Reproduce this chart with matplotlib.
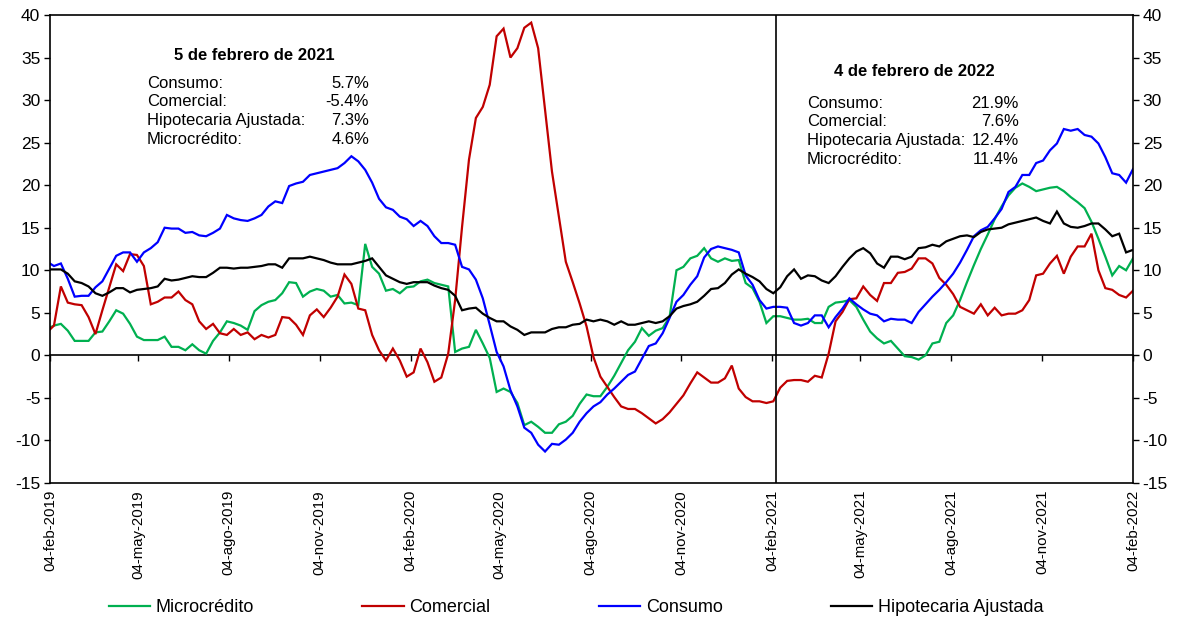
import matplotlib
matplotlib.use("Agg")
import matplotlib.pyplot as plt
import pandas as pd
import numpy as np

plt.rcParams['font.family'] = ['Liberation Sans', 'DejaVu Sans']

# weekly (Friday) observations, 01-feb-2019 .. 04-feb-2022
start_date = '2019-02-01'

microcredito = [
    3.1, 3.5, 3.7, 2.9, 1.7, 1.7, 1.7, 2.7, 2.8, 4.0, 5.3, 4.9, 3.7, 2.2, 1.8, 1.8, 1.8, 2.2, 1.0, 1.0,
    0.6, 1.3, 0.6, 0.2, 1.7, 2.7, 4.0, 3.8, 3.5, 3.0, 5.2, 5.9, 6.3, 6.5, 7.3, 8.6, 8.5, 6.9, 7.5, 7.8,
    7.6, 6.9, 7.1, 6.1, 6.2, 5.9, 13.1, 10.4, 9.6, 7.6, 7.8, 7.3, 8.0, 8.1, 8.7, 8.9, 8.5, 8.3, 8.1, 0.4,
    0.8, 1.0, 3.0, 1.4, -0.3, -4.3, -3.9, -4.3, -5.6, -8.2, -7.8, -8.4, -9.1, -9.1, -8.1, -7.8, -7.1, -5.7, -4.6, -4.8,
    -4.8, -3.7, -2.4, -0.9, 0.6, 1.6, 3.2, 2.3, 2.9, 3.2, 4.5, 10.0, 10.4, 11.4, 11.7, 12.6, 11.4, 11.0, 11.4, 11.1,
    11.2, 8.5, 7.9, 6.3, 3.8, 4.6, 4.6, 4.4, 4.2, 4.2, 4.3, 3.8, 3.8, 5.7, 6.2, 6.3, 6.5, 5.7, 4.2, 2.8,
    2.0, 1.4, 1.7, 0.8, -0.1, -0.2, -0.5, 0.0, 1.4, 1.6, 3.8, 4.7, 6.5, 8.6, 10.6, 12.5, 14.2, 16.0, 17.5, 18.8,
    19.7, 20.2, 19.8, 19.3, 19.5, 19.7, 19.8, 19.3, 18.6, 18.0, 17.3, 15.7, 13.7, 11.6, 9.4, 10.5, 10.0, 11.4,
]

comercial = [
    2.7, 3.5, 8.1, 6.2, 6.0, 5.9, 4.5, 2.5, 5.3, 8.0, 10.7, 9.9, 11.9, 11.8, 10.5, 6.0, 6.3, 6.8, 6.8, 7.5,
    6.5, 6.0, 4.0, 3.1, 3.7, 2.6, 2.4, 3.1, 2.4, 2.7, 1.9, 2.4, 2.1, 2.4, 4.5, 4.4, 3.6, 2.4, 4.7, 5.4,
    4.5, 5.6, 6.9, 9.5, 8.4, 5.5, 5.3, 2.4, 0.6, -0.6, 0.8, -0.6, -2.5, -2.0, 0.8, -0.8, -3.1, -2.6, 0.2, 6.5,
    15.1, 23.0, 27.9, 29.2, 31.8, 37.5, 38.4, 35.0, 36.1, 38.5, 39.1, 36.1, 28.8, 21.6, 16.3, 11.0, 8.6, 6.1, 3.4, -0.2,
    -2.5, -3.7, -4.9, -6.0, -6.3, -6.3, -6.8, -7.4, -8.0, -7.5, -6.7, -5.7, -4.7, -3.3, -2.0, -2.6, -3.2, -3.2, -2.7, -1.2,
    -3.9, -4.9, -5.4, -5.4, -5.6, -5.4, -3.8, -3.0, -2.9, -2.9, -3.1, -2.4, -2.6, 0.2, 4.0, 5.1, 6.6, 6.7, 8.1, 7.1,
    6.4, 8.5, 8.5, 9.7, 9.8, 10.2, 11.4, 11.4, 10.8, 9.1, 8.3, 7.2, 5.7, 5.3, 4.9, 6.0, 4.7, 5.6, 4.7, 4.9,
    4.9, 5.3, 6.5, 9.4, 9.6, 10.8, 11.7, 9.6, 11.6, 12.8, 12.8, 14.3, 10.0, 7.9, 7.7, 7.1, 6.8, 7.6,
]

consumo = [
    11.0, 10.5, 10.8, 9.0, 6.9, 7.0, 7.0, 8.0, 8.7, 10.2, 11.7, 12.1, 12.1, 11.0, 12.1, 12.6, 13.3, 15.0, 14.9, 14.9,
    14.4, 14.5, 14.1, 14.0, 14.4, 14.9, 16.5, 16.1, 15.9, 15.8, 16.1, 16.5, 17.5, 18.1, 17.9, 19.9, 20.2, 20.4, 21.2, 21.4,
    21.6, 21.8, 22.0, 22.6, 23.4, 22.8, 21.8, 20.3, 18.4, 17.4, 17.1, 16.3, 16.0, 15.2, 15.8, 15.2, 14.0, 13.2, 13.2, 13.0,
    10.4, 10.1, 8.9, 6.7, 3.6, 0.4, -1.3, -4.1, -6.0, -8.5, -9.1, -10.5, -11.3, -10.4, -10.5, -9.9, -9.1, -7.8, -6.8, -6.0,
    -5.5, -4.6, -3.9, -3.1, -2.3, -1.9, -0.4, 1.1, 1.4, 2.6, 4.4, 6.3, 7.1, 8.3, 9.3, 11.5, 12.5, 12.8, 12.6, 12.4,
    12.1, 9.4, 8.3, 6.5, 5.5, 5.7, 5.7, 5.6, 3.8, 3.5, 3.8, 4.7, 4.7, 3.3, 4.5, 5.5, 6.7, 6.0, 5.4, 4.9,
    4.7, 4.0, 4.3, 4.2, 4.2, 3.8, 5.1, 6.0, 6.9, 7.7, 8.6, 9.6, 10.9, 12.4, 14.0, 14.7, 15.1, 16.1, 17.2, 19.2,
    19.8, 21.2, 21.2, 22.6, 22.9, 24.1, 24.9, 26.6, 26.4, 26.6, 25.9, 25.7, 24.9, 23.3, 21.4, 21.2, 20.3, 21.9,
]

hipotecaria = [
    10.1, 10.1, 10.1, 9.6, 8.7, 8.5, 8.1, 7.3, 7.0, 7.4, 7.9, 7.9, 7.4, 7.7, 7.8, 7.9, 8.1, 9.0, 8.8, 8.9,
    9.1, 9.3, 9.2, 9.2, 9.7, 10.3, 10.3, 10.2, 10.3, 10.3, 10.4, 10.5, 10.7, 10.7, 10.3, 11.4, 11.4, 11.4, 11.6, 11.4,
    11.2, 10.9, 10.7, 10.7, 10.7, 10.9, 11.1, 11.4, 10.4, 9.4, 9.0, 8.6, 8.4, 8.6, 8.6, 8.6, 8.2, 7.9, 7.7, 7.0,
    5.3, 5.5, 5.6, 4.9, 4.4, 4.0, 4.0, 3.4, 3.0, 2.4, 2.7, 2.7, 2.7, 3.1, 3.3, 3.3, 3.6, 3.7, 4.2, 4.0,
    4.2, 4.0, 3.6, 4.0, 3.6, 3.6, 3.8, 4.0, 3.8, 4.0, 4.6, 5.5, 5.8, 6.0, 6.3, 7.0, 7.8, 7.9, 8.5, 9.5,
    10.1, 9.6, 9.2, 8.7, 7.8, 7.3, 8.0, 9.3, 10.1, 9.0, 9.4, 9.3, 8.8, 8.5, 9.3, 10.4, 11.4, 12.2, 12.6, 12.0,
    10.8, 10.3, 11.6, 11.6, 11.3, 11.6, 12.6, 12.7, 13.0, 12.8, 13.4, 13.7, 14.0, 14.1, 13.9, 14.5, 14.8, 14.9, 15.0, 15.4,
    15.6, 15.8, 16.0, 16.2, 15.8, 15.5, 16.9, 15.5, 15.1, 15.0, 15.2, 15.5, 15.5, 14.8, 14.0, 14.3, 12.1, 12.4,
]

series_names = ['Microcrédito', 'Comercial', 'Consumo', 'Hipotecaria Ajustada']
series_colors = ['#00B050', '#C00000', '#0000FF', '#000000']

xtick_dates = ['2019-02-04', '2019-05-04', '2019-08-04', '2019-11-04', '2020-02-04', '2020-05-04',
               '2020-08-04', '2020-11-04', '2021-02-04', '2021-05-04', '2021-08-04', '2021-11-04', '2022-02-04']
xtick_labels = ['04-feb-2019', '04-may-2019', '04-ago-2019', '04-nov-2019', '04-feb-2020', '04-may-2020',
                '04-ago-2020', '04-nov-2020', '04-feb-2021', '04-may-2021', '04-ago-2021', '04-nov-2021', '04-feb-2022']
yticks = list(range(-15, 45, 5))

box1_title = '5 de febrero de 2021'
box1_labels = ['Consumo:', 'Comercial:', 'Hipotecaria Ajustada:', 'Microcrédito:']
box1_values = ['5.7%', '-5.4%', '7.3%', '4.6%']
box2_title = '4 de febrero de 2022'
box2_labels = ['Consumo:', 'Comercial:', 'Hipotecaria Ajustada:', 'Microcrédito:']
box2_values = ['21.9%', '7.6%', '12.4%', '11.4%']

for s in (microcredito, comercial, consumo, hipotecaria):
    assert len(s) == 158, len(s)

dates = pd.date_range(start_date, periods=158, freq='7D')
W, H = 1186, 625
fig = plt.figure(figsize=(W / 100, H / 100), dpi=100)
L, R, T, B = 50, 1133, 15, 483
ax = fig.add_axes([L / W, 1 - B / H, (R - L) / W, (B - T) / H])

lines = []
for vals, name, col in zip([microcredito, comercial, consumo, hipotecaria], series_names, series_colors):
    ln, = ax.plot(dates, vals, color=col, lw=1.6, label=name, solid_joinstyle='miter')
    lines.append(ln)

ax.set_xlim(pd.Timestamp('2019-02-04'), pd.Timestamp('2022-02-04'))
ax.set_ylim(-15, 40)
ax.set_yticks(yticks)
ax.set_yticklabels([str(v) for v in yticks])
ax.tick_params(axis='y', which='both', left=True, right=True, labelleft=True, labelright=True,
               direction='out', length=4, width=1, labelsize=12.5, pad=3)

ax.set_xticks([pd.Timestamp(d) for d in xtick_dates])
ax.set_xticklabels(xtick_labels, rotation=90, fontsize=10.8, va='top', ha='center')
ax.tick_params(axis='x', length=0, pad=5)

for sp in ax.spines.values():
    sp.set_color('black')
    sp.set_linewidth(1.2)

# horizontal axis crossing at zero, with its tick marks
zero_frac = 15 / 55
sec = ax.secondary_xaxis(zero_frac)
sec.set_xticks([pd.Timestamp(d) for d in xtick_dates])
sec.set_xticklabels([''] * len(xtick_dates))
sec.tick_params(axis='x', direction='out', length=4, width=1, color='black')
sec.spines['bottom'].set_linewidth(1.2)
sec.spines['bottom'].set_color('black')

ax.axvline(pd.Timestamp('2021-02-08'), color='black', lw=1.2)

def px(x, y):
    return x / W, 1 - y / H

# annotation boxes
fig.text(*px(254, 56), box1_title, ha='center', va='center', fontsize=12, fontweight='bold')
for i, (lab, val) in enumerate(zip(box1_labels, box1_values)):
    y = 83 + i * 18.7
    fig.text(*px(147, y), lab, ha='left', va='center', fontsize=12)
    fig.text(*px(369, y), val, ha='right', va='center', fontsize=12)

fig.text(*px(914, 72), box2_title, ha='center', va='center', fontsize=12, fontweight='bold')
for i, (lab, val) in enumerate(zip(box2_labels, box2_values)):
    y = 103 + i * 18.7
    fig.text(*px(807, y), lab, ha='left', va='center', fontsize=12)
    fig.text(*px(1019, y), val, ha='right', va='center', fontsize=12)

fig.legend(handles=lines, loc='center', bbox_to_anchor=(576 / W, 1 - 608 / H), ncol=4, frameon=False,
           fontsize=13, handlelength=2.3, handletextpad=0.3, columnspacing=6.0)

fig.savefig('out.png', dpi=100)
